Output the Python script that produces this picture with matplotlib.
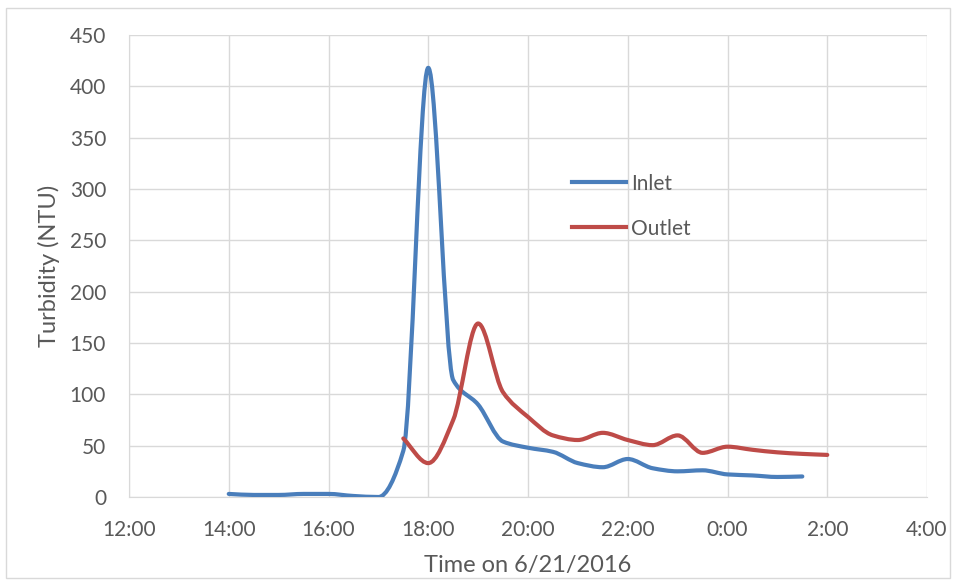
import matplotlib
matplotlib.use('Agg')
import matplotlib.pyplot as plt
import numpy as np
from matplotlib.path import Path
from matplotlib.patches import PathPatch, Rectangle
from matplotlib.lines import Line2D

# hours after 12:00 on 6/21/2016 (30 min readings)
inlet_t = [2.0, 2.5, 3.0, 3.5, 4.0, 4.5, 5.0, 5.5, 6.0, 6.5, 7.0, 7.5, 8.0, 8.5,
           9.0, 9.5, 10.0, 10.5, 11.0, 11.5, 12.0, 12.5, 13.0, 13.5]
inlet = [3, 2, 2, 3, 3, 1, 0, 45, 418, 114, 90, 54, 48, 44,
         33, 29, 37, 28, 25, 26, 22, 21, 19.5, 20]
outlet_t = [5.5, 6.0, 6.5, 7.0, 7.5, 8.0, 8.5, 9.0, 9.5, 10.0, 10.5, 11.0,
            11.5, 12.0, 12.5, 13.0, 13.5, 14.0]
outlet = [57, 33, 75, 169, 102, 78, 60, 55.5, 62.5, 55.5, 50.5, 60,
          43, 49, 46, 43.5, 42, 41]

xticks = [0, 2, 4, 6, 8, 10, 12, 14, 16]
xlabels = ['12:00', '14:00', '16:00', '18:00', '20:00', '22:00', '0:00', '2:00', '4:00']

BLUE = '#4a7ebb'
RED = '#be4b48'
GRAY = '#595959'


def smooth_path(x, y):
    # smoothed line through the readings, cubic bezier with monotone tangents
    x = np.asarray(x, float)
    y = np.asarray(y, float)
    h = np.diff(x)
    s = np.diff(y) / h
    n = len(x)
    m = np.zeros(n)
    m[0], m[-1] = s[0], s[-1]
    for i in range(1, n - 1):
        if s[i - 1] * s[i] > 0:
            m[i] = 2 / (1 / s[i - 1] + 1 / s[i])
    verts = [(x[0], y[0])]
    codes = [Path.MOVETO]
    for i in range(n - 1):
        verts += [(x[i] + h[i] / 3, y[i] + m[i] * h[i] / 3),
                  (x[i + 1] - h[i] / 3, y[i + 1] - m[i + 1] * h[i] / 3),
                  (x[i + 1], y[i + 1])]
        codes += [Path.CURVE4] * 3
    return Path(verts, codes)


plt.rcParams['font.family'] = ['Lato', 'DejaVu Sans']

fig = plt.figure(figsize=(9.57, 5.82), dpi=100)
ax = fig.add_axes([129/957, 1 - 497/582, (927 - 129)/957, (497 - 35)/582])

for t, v, c in [(inlet_t, inlet, BLUE), (outlet_t, outlet, RED)]:
    ax.add_patch(PathPatch(smooth_path(t, v), facecolor='none', edgecolor=c,
                           lw=3, capstyle='round', joinstyle='round', zorder=3))

ax.set_xlim(0, 16)
ax.set_ylim(0, 450)
ax.set_xticks(xticks)
ax.set_xticklabels(xlabels)
ax.set_yticks(range(0, 451, 50))
ax.grid(True, color='#d9d9d9', lw=1)
ax.set_axisbelow(True)
for s in ['top', 'right']:
    ax.spines[s].set_visible(False)
ax.spines['bottom'].set_color('#d9d9d9')
ax.spines['left'].set_color('#d9d9d9')
ax.tick_params(length=0, labelsize=15, labelcolor=GRAY, pad=16.5)
ax.set_xlabel('Time on 6/21/2016', fontsize=17, color=GRAY, labelpad=11)
ax.set_ylabel('Turbidity (NTU)', fontsize=17, color=GRAY, labelpad=7)

handles = [Line2D([], [], color=BLUE, lw=3), Line2D([], [], color=RED, lw=3)]
leg = ax.legend(handles, ['Inlet', 'Outlet'], loc='upper left',
                bbox_to_anchor=(553/957, 1 - 155/582), bbox_transform=fig.transFigure,
                frameon=False, fontsize=15, handlelength=2.6, handletextpad=0.25,
                labelspacing=1.2)
for txt in leg.get_texts():
    txt.set_color(GRAY)

fig.patches.append(Rectangle((6/957, 4/582), 944/957, 570/582, transform=fig.transFigure,
                             fill=False, edgecolor='#d9d9d9', lw=1))

fig.savefig('out.png', dpi=100)
